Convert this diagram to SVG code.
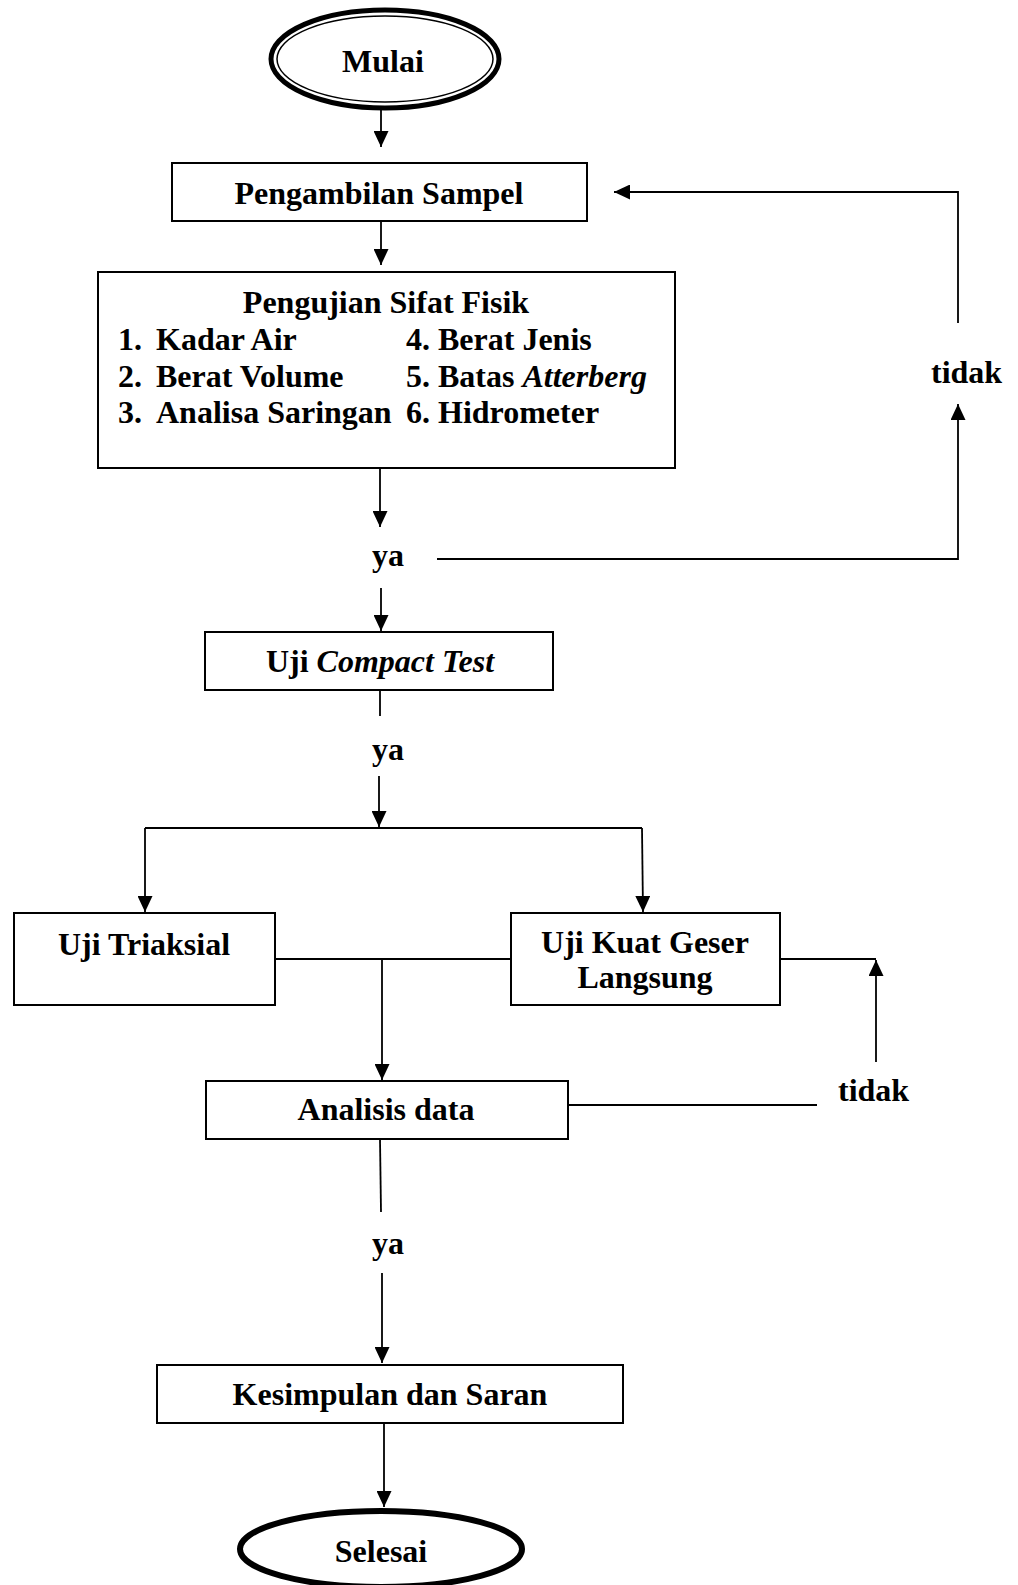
<svg xmlns="http://www.w3.org/2000/svg" width="1018" height="1585" viewBox="0 0 1018 1585">
<style>
text{font-family:"Liberation Serif","Times New Roman",serif;font-size:32px;font-weight:bold;fill:#000}
.c{text-anchor:middle}
.it{font-style:italic}
.box{fill:#fff;stroke:#000;stroke-width:2}
.ln{fill:none;stroke:#000;stroke-width:1.8}
</style>
<defs>
<marker id="ah" viewBox="0 0 16 15" refX="16" refY="7.5" markerWidth="16" markerHeight="15" markerUnits="userSpaceOnUse" orient="auto">
<path d="M0,0 L16,7.5 L0,15 z" fill="#000"/>
</marker>
</defs>
<rect width="1018" height="1585" fill="#fff"/>
<g id="connectors">
<path class="ln" d="M381,110 V147" marker-end="url(#ah)"/>
<path class="ln" d="M381,222 V265" marker-end="url(#ah)"/>
<path class="ln" d="M380,468 V527" marker-end="url(#ah)"/>
<path class="ln" d="M437,559 H958 V404" marker-end="url(#ah)"/>
<path class="ln" d="M958,323 V192 H614" marker-end="url(#ah)"/>
<path class="ln" d="M381,588 V631" marker-end="url(#ah)"/>
<path class="ln" d="M380,690 V716"/>
<path class="ln" d="M379,776 V827" marker-end="url(#ah)"/>
<path class="ln" d="M145,828 H642"/>
<path class="ln" d="M145,828 V912" marker-end="url(#ah)"/>
<path class="ln" d="M642,828 L643,912" marker-end="url(#ah)"/>
<path class="ln" d="M275,959 H511"/>
<path class="ln" d="M382,959 V1080" marker-end="url(#ah)"/>
<path class="ln" d="M780,959 H876"/>
<path class="ln" d="M876,1062 V960" marker-end="url(#ah)"/>
<path class="ln" d="M568,1105 H817"/>
<path class="ln" d="M380,1139 L381,1212"/>
<path class="ln" d="M382,1273 V1363" marker-end="url(#ah)"/>
<path class="ln" d="M384,1423 V1507" marker-end="url(#ah)"/>
<text class="c" x="388" y="566">ya</text>
<text class="c" x="388" y="760">ya</text>
<text class="c" x="388" y="1254">ya</text>
<text x="931" y="383">tidak</text>
<text x="838" y="1101">tidak</text>
</g>
<g id="mulai">
<ellipse cx="385" cy="59" rx="114" ry="49" fill="#fff" stroke="#000" stroke-width="5"/>
<ellipse cx="385" cy="59" rx="108" ry="43" fill="none" stroke="#000" stroke-width="1.5"/>
<text class="c" x="383" y="72">Mulai</text>
</g>
<g id="pengambilan">
<rect class="box" x="172" y="163" width="415" height="58"/>
<text class="c" x="379" y="204">Pengambilan Sampel</text>
</g>
<g id="pengujian">
<rect class="box" x="98" y="272" width="577" height="196"/>
<text class="c" x="386" y="313">Pengujian Sifat Fisik</text>
<text y="350"><tspan x="118">1.</tspan><tspan x="156">Kadar Air</tspan></text>
<text y="387"><tspan x="118">2.</tspan><tspan x="156">Berat Volume</tspan></text>
<text y="423"><tspan x="118">3.</tspan><tspan x="156">Analisa Saringan</tspan></text>
<text x="406" y="350">4. Berat Jenis</text>
<text x="406" y="387">5. Batas <tspan class="it">Atterberg</tspan></text>
<text x="406" y="423">6. Hidrometer</text>
</g>
<g id="compact">
<rect class="box" x="205" y="632" width="348" height="58"/>
<text class="c" x="380" y="672">Uji <tspan class="it">Compact Test</tspan></text>
</g>
<g id="triaksial">
<rect class="box" x="14" y="913" width="261" height="92"/>
<text class="c" x="144" y="955">Uji Triaksial</text>
</g>
<g id="kuatgeser">
<rect class="box" x="511" y="913" width="269" height="92"/>
<text class="c" x="645" y="953">Uji Kuat Geser</text>
<text class="c" x="645" y="988">Langsung</text>
</g>
<g id="analisis">
<rect class="box" x="206" y="1081" width="362" height="58"/>
<text class="c" x="386" y="1120">Analisis data</text>
</g>
<g id="kesimpulan">
<rect class="box" x="157" y="1365" width="466" height="58"/>
<text class="c" x="390" y="1405">Kesimpulan dan Saran</text>
</g>
<g id="selesai">
<ellipse cx="381" cy="1549" rx="141" ry="38" fill="#fff" stroke="#000" stroke-width="6"/>
<text class="c" x="381" y="1562">Selesai</text>
</g>
</svg>
